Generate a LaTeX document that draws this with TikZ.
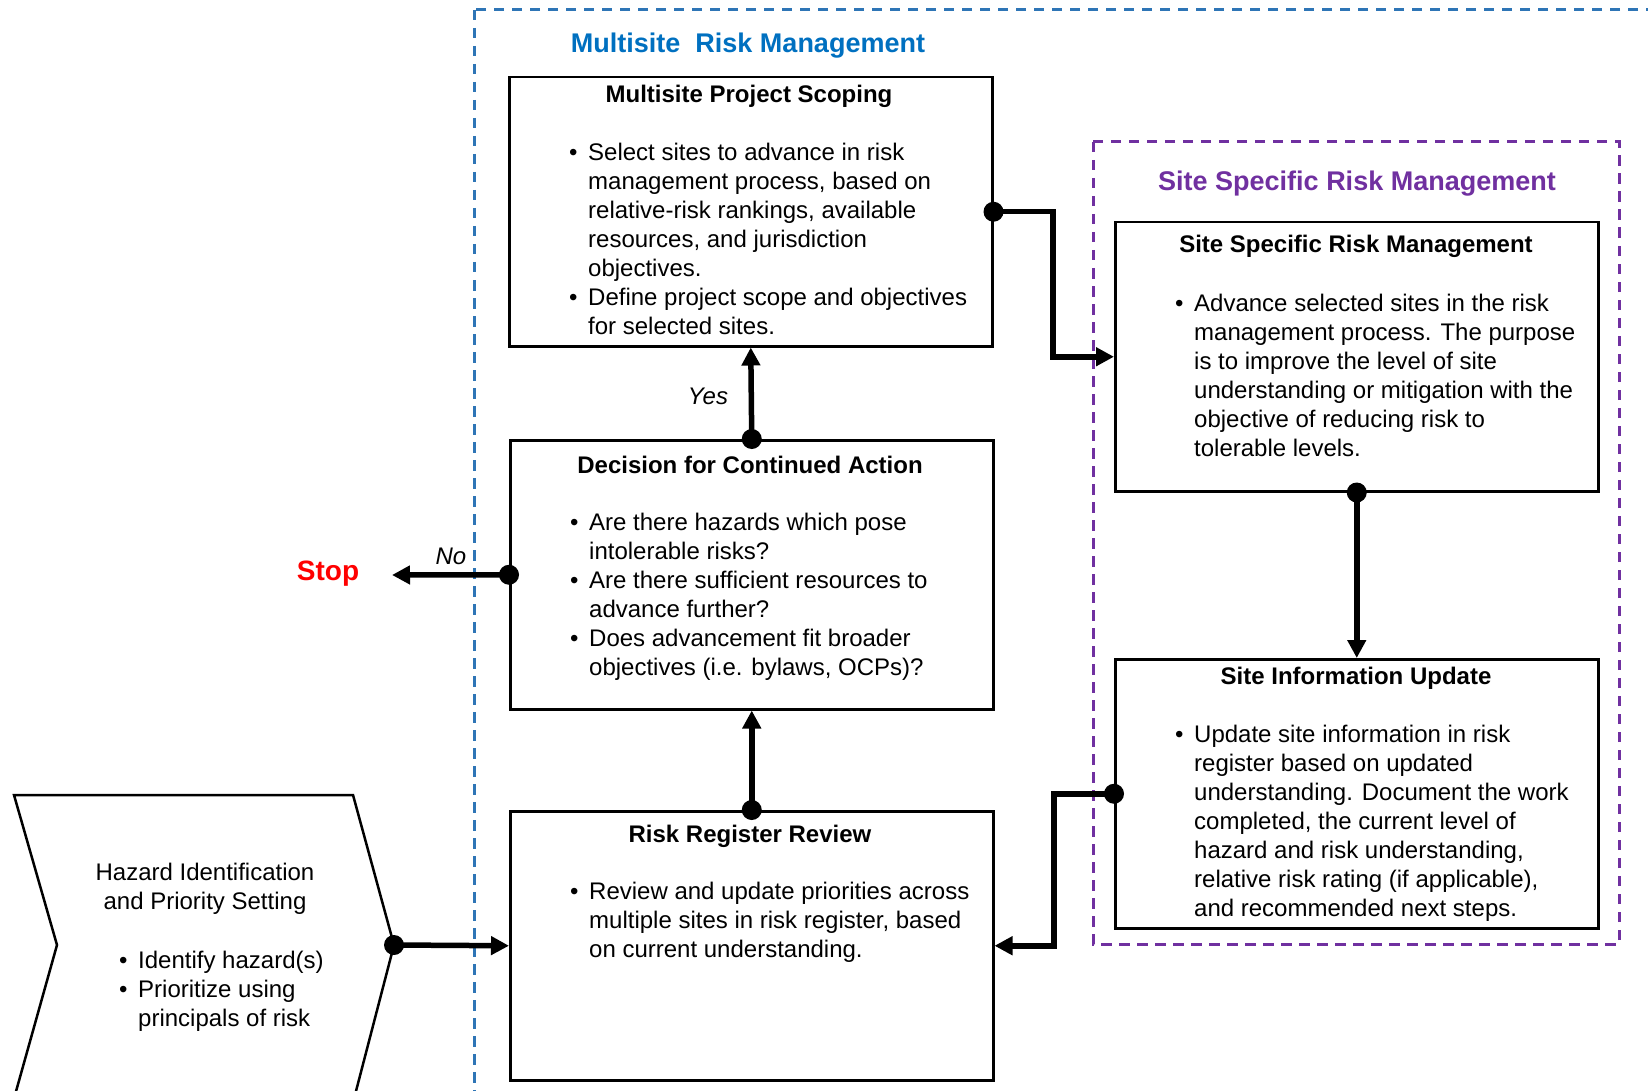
\documentclass[tikz,border=0pt]{standalone}
\usepackage{fontspec}
\setmainfont{Liberation Sans}
\usetikzlibrary{arrows.meta}
\definecolor{mblue}{HTML}{0070C0}
\definecolor{dblue}{HTML}{2E75B6}
\definecolor{mpurple}{HTML}{7030A0}
\newcommand{\bul}{\makebox[19pt][l]{\textbullet}}
\begin{document}
\begin{tikzpicture}[x=1pt,y=-1pt,
  box/.style={draw, line width=2.5pt, inner sep=0pt, anchor=north west, minimum width=483pt, minimum height=269pt},
  conn/.style={line width=5.5pt, -{Triangle[length=18pt,width=18pt]}},
  boxtitle/.style={anchor=base, inner sep=0pt, font=\bfseries\fontsize{24}{29}\selectfont},
  body/.style={anchor=base west, inner sep=0pt, font=\fontsize{24}{29}\selectfont},
  grouptitle/.style={anchor=base, inner sep=0pt, font=\bfseries\fontsize{27}{32}\selectfont},
  grpbox/.style={line width=3pt, dash pattern=on 10.5pt off 7.5pt},
  lbl/.style={anchor=base, inner sep=0pt, font=\itshape\fontsize{24}{29}\selectfont}]
\useasboundingbox (0,0) rectangle (1648,1091);
\clip (0,0) rectangle (1648,1091);
% group frames
\draw[grpbox, dblue] (474,10) rectangle (1720,1200);
\draw[grpbox, mpurple] (1093,142) rectangle (1619,944);
\node[grouptitle, text=mblue] (gt1) at (748,53) {Multisite\ \ Risk Management};
\node[grouptitle, text=mpurple] (gt2) at (1357,191) {Site Specific Risk Management};
% boxes
\node[box] (mps) at (508,76) {};
\node[box] (dec) at (509,439) {};
\node[box] (rrr) at (509,810) {};
\node[box] (ssrm) at (1114,221) {};
\node[box] (siu) at (1114,658) {};
% hazard chevron
\draw[line width=2.5pt, line join=miter] (14,795) -- (353,795) -- (394,945) -- (355,1095) -- (15,1095) -- (57,945) -- cycle;
\coordinate (haztip) at (394,945);
% texts
\node[boxtitle] (mpsT) at (749,103) {Multisite Project Scoping};
\node[body] (mpsB) at (569,160.5) {\begin{tabular}[t]{@{}l@{}l@{}}
\bul & Select sites to advance in risk\\
 & management process, based on\\
 & relative-risk rankings, available\\
 & resources, and jurisdiction\\
 & objectives.\\
\bul & Define project scope and objectives\\
 & for selected sites.
\end{tabular}};
\node[boxtitle] (decT) at (750,473) {Decision for Continued Action};
\node[body] (decB) at (570,530) {\begin{tabular}[t]{@{}l@{}l@{}}
\bul & Are there hazards which pose\\
 & intolerable risks?\\
\bul & Are there sufficient resources to\\
 & advance further?\\
\bul & Does advancement fit broader\\
 & objectives (i.e. bylaws, OCPs)?
\end{tabular}};
\node[boxtitle] (rrrT) at (750,842) {Risk Register Review};
\node[body] (rrrB) at (570,899) {\begin{tabular}[t]{@{}l@{}l@{}}
\bul & Review and update priorities across\\
 & multiple sites in risk register, based\\
 & on current understanding.
\end{tabular}};
\node[boxtitle] (ssrmT) at (1356,253) {Site Specific Risk Management};
\node[body] (ssrmB) at (1175,311) {\begin{tabular}[t]{@{}l@{}l@{}}
\bul & Advance selected sites in the risk\\
 & management process. The purpose\\
 & is to improve the level of site\\
 & understanding or mitigation with the\\
 & objective of reducing risk to\\
 & tolerable levels.
\end{tabular}};
\node[boxtitle] (siuT) at (1356,684) {Site Information Update};
\node[body] (siuB) at (1175,742) {\begin{tabular}[t]{@{}l@{}l@{}}
\bul & Update site information in risk\\
 & register based on updated\\
 & understanding. Document the work\\
 & completed, the current level of\\
 & hazard and risk understanding,\\
 & relative risk rating (if applicable),\\
 & and recommended next steps.
\end{tabular}};
\node[anchor=base, inner sep=0pt, font=\fontsize{24}{29}\selectfont] (hazT) at (205,880) {\begin{tabular}[t]{@{}c@{}}Hazard Identification\\and Priority Setting\end{tabular}};
\node[body] (hazB) at (119,968) {\begin{tabular}[t]{@{}l@{}l@{}}
\bul & Identify hazard(s)\\
\bul & Prioritize using\\
 & principals of risk
\end{tabular}};
\node[anchor=base, inner sep=0pt, text=red, font=\bfseries\fontsize{28}{32}\selectfont] (stop) at (328,580) {Stop};
\node[lbl] (yes) at (708,404) {Yes};
\node[lbl] (no) at (451,564) {No};
% connectors
\coordinate (j1) at (1053,0);
\coordinate (j2) at (1054,0);
\coordinate (stoparrow) at (392,575);
\draw[conn] (mps.east) -- (mps.east -| j1) |- (ssrm.west);
\draw[conn] (ssrm.south) -- (siu.north);
\draw[conn] (siu.west) -- (siu.west -| j2) |- (rrr.east);
\draw[conn] (rrr.north) -- (dec.south);
\draw[conn] (dec.north) -- (mps.south);
\draw[conn] (dec.west) -- (stoparrow);
\draw[conn] (haztip) -- (rrr.west);
\foreach \p in {mps.east, ssrm.south, siu.west, rrr.north, dec.north, dec.west, haztip}
  \fill (\p) circle[radius=10pt];
\end{tikzpicture}
\end{document}
